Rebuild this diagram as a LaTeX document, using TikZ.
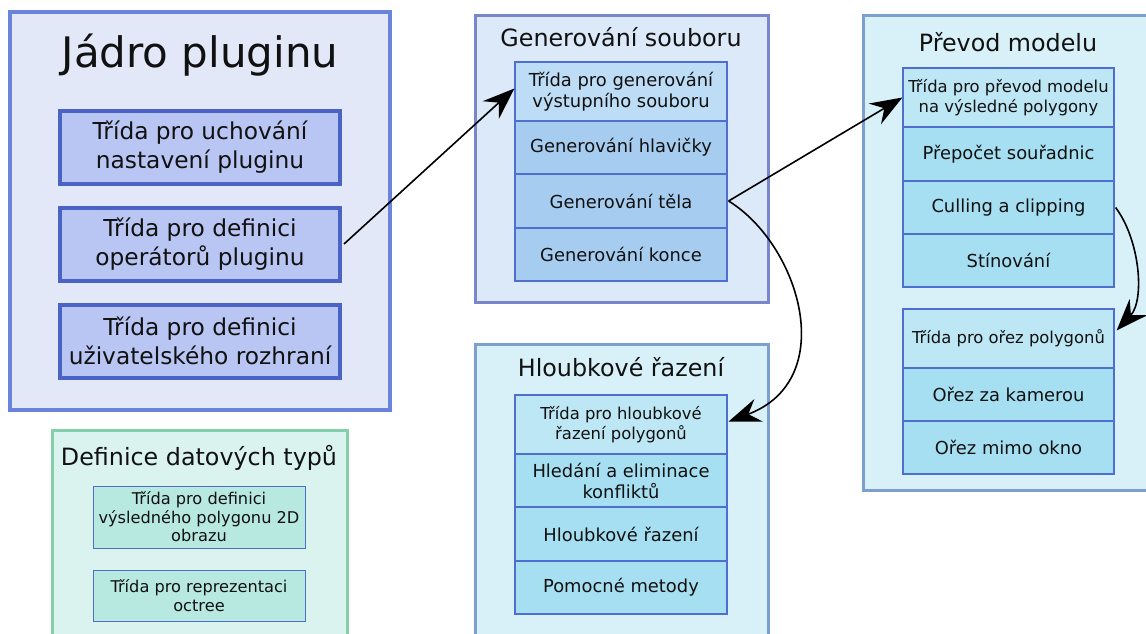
\documentclass[tikz,border=0pt]{standalone}
\usepackage{fontspec}
\setmainfont{DejaVu Sans}
\usetikzlibrary{arrows.meta}

\definecolor{coreBorder}{HTML}{6A84DB}
\definecolor{coreFill}{HTML}{E2E8F7}
\definecolor{coreItemFill}{HTML}{B9C6F3}
\definecolor{coreItemBorder}{HTML}{4B63C6}
\definecolor{genBorder}{HTML}{7A85CC}
\definecolor{genFill}{HTML}{DBE9F8}
\definecolor{genTop}{HTML}{BDDCF5}
\definecolor{genRow}{HTML}{A6CDF0}
\definecolor{rowBorder}{HTML}{4F6FCF}
\definecolor{convBorder}{HTML}{7D9FCC}
\definecolor{convFill}{HTML}{D8F1F9}
\definecolor{convTop}{HTML}{BEE7F5}
\definecolor{convRow}{HTML}{A6DFF1}
\definecolor{typesBorder}{HTML}{82CFA9}
\definecolor{typesFill}{HTML}{DAF3EF}
\definecolor{typesItem}{HTML}{B7E9E1}
\definecolor{textCol}{HTML}{111111}

\tikzset{
  group/.style={draw, line width=3pt},
  grouptitle/.style={text=textCol, font=\fontsize{23.8}{28}\selectfont, inner sep=0pt},
  coreitem/.style={draw=coreItemBorder, fill=coreItemFill, line width=4pt,
    minimum width=280pt, minimum height=73pt, inner sep=0pt, align=center,
    text=textCol, font=\fontsize{23.3}{29}\selectfont},
  row/.style={draw=rowBorder, line width=1.2pt, inner sep=0pt, align=center,
    minimum width=212pt, text=textCol, font=\fontsize{17.9}{21}\selectfont},
  headrow/.style={row, font=\fontsize{16.4}{20}\selectfont},
  typeitem/.style={draw=rowBorder, fill=typesItem, line width=1pt, inner sep=0pt,
    align=center, minimum width=212pt, text=textCol, font=\fontsize{16.2}{18.5}\selectfont},
  bigtip/.tip={Stealth[length=32pt, width=24pt, inset=11pt]},
  link/.style={line width=1.6pt, arrows={-bigtip}}
}

\begin{document}
\begin{tikzpicture}[x=1pt,y=-1pt]
\useasboundingbox (0,0) rectangle (1146,634);
\clip (0,0) rectangle (1146,634);

% --- plugin core ---
\draw[group, line width=4pt, draw=coreBorder, fill=coreFill] (10,12) rectangle (390,410);
\node[grouptitle, font=\fontsize{42}{48}\selectfont] (coreTitle) at (200,55) {Jádro pluginu};
\node[coreitem] (core1) at (200,147.5) {Třída pro uchování\\nastavení pluginu};
\node[coreitem] (core2) at (200,244) {Třída pro definici\\operátorů pluginu};
\node[coreitem] (core3) at (200,341) {Třída pro definici\\uživatelského rozhraní};

% --- data types ---
\draw[group, draw=typesBorder, fill=typesFill] (52,430) rectangle (347,660);
\node[grouptitle] (typesTitle) at (199,458) {Definice datových typů};
\node[typeitem, minimum height=62pt] (type1) at (199,517) {Třída pro definici\\výsledného polygonu 2D\\obrazu};
\node[typeitem, minimum height=51pt] (type2) at (199,595.5) {Třída pro reprezentaci\\octree};

% --- file generation ---
\draw[group, draw=genBorder, fill=genFill] (475,16) rectangle (768,302);
\node[grouptitle] (genTitle) at (621,37) {Generování souboru};
\node[row, fill=genTop, minimum height=59pt] (genHead) at (621,91.5) {Třída pro generování\\výstupního souboru};
\node[row, fill=genRow, minimum height=53pt] (genHeader) at (621,147.5) {Generování hlavičky};
\node[row, fill=genRow, minimum height=54pt] (genBody) at (621,201) {Generování těla};
\node[row, fill=genRow, minimum height=53pt] (genEnd) at (621,254.5) {Generování konce};

% --- depth sorting ---
\draw[group, draw=convBorder, fill=convFill] (475,344) rectangle (768,660);
\node[grouptitle] (sortTitle) at (621,367) {Hloubkové řazení};
\node[headrow, fill=convTop, minimum height=59pt] (sortHead) at (621,424.5) {Třída pro hloubkové\\řazení polygonů};
\node[row, fill=convRow, minimum height=53pt] (sortConf) at (621,480.5) {Hledání a eliminace\\konfliktů};
\node[row, fill=convRow, minimum height=54pt] (sortSort) at (621,534) {Hloubkové řazení};
\node[row, fill=convRow, minimum height=53pt] (sortHelp) at (621,587.5) {Pomocné metody};

% --- model conversion ---
\draw[group, draw=convBorder, fill=convFill] (863,16) rectangle (1170,490);
\node[grouptitle] (convTitle) at (1008,42) {Převod modelu};
\node[headrow, fill=convTop, minimum width=211pt, minimum height=59pt] (convHead) at (1008.5,97.5) {Třída pro převod modelu\\na výsledné polygony};
\node[row, fill=convRow, minimum width=211pt, minimum height=54pt] (convCoord) at (1008.5,154) {Přepočet souřadnic};
\node[row, fill=convRow, minimum width=211pt, minimum height=53pt] (convCull) at (1008.5,207.5) {Culling a clipping};
\node[row, fill=convRow, minimum width=211pt, minimum height=53pt] (convShade) at (1008.5,260.5) {Stínování};
\node[headrow, fill=convTop, minimum width=211pt, minimum height=59pt] (clipHead) at (1008.5,338.5) {Třída pro ořez polygonů};
\node[row, fill=convRow, minimum width=211pt, minimum height=53pt] (clipCam) at (1008.5,394.5) {Ořez za kamerou};
\node[row, fill=convRow, minimum width=211pt, minimum height=53pt] (clipWin) at (1008.5,447.5) {Ořez mimo okno};

% --- connectors ---
\draw[link] ([xshift=2pt]core2.east) -- ([yshift=3pt]genHead.west);
\draw[link] ([xshift=1pt]genBody.east) -- (convHead.west);
\draw[link] ([xshift=1pt]genBody.east) .. controls (800,245) and (840,380) .. ([xshift=1pt,yshift=3pt]sortHead.east);
\draw[link] ([xshift=1pt]convCull.east) .. controls (1140,240) and (1145,300) .. ([xshift=2pt,yshift=8pt]clipHead.east);
\end{tikzpicture}
\end{document}
